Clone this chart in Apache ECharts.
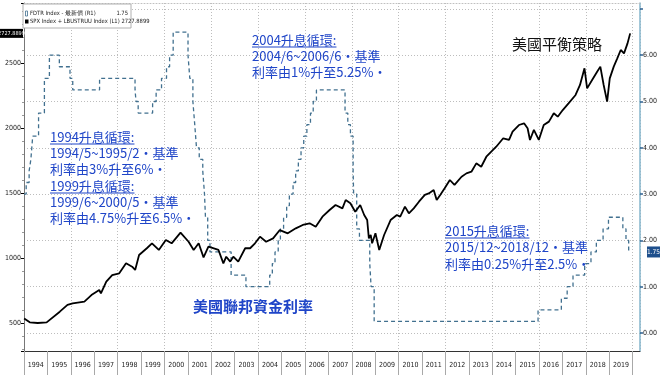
<!DOCTYPE html>
<html><head><meta charset="utf-8">
<script src="https://cdn.jsdelivr.net/npm/echarts@6/dist/echarts.min.js"></script>
<style>html,body{margin:0;padding:0;background:#fff}#c{width:660px;height:375px}</style>
</head><body><div id="c"></div>
<script>
// ---- data ----
const yearLabels = [1994,1995,1996,1997,1998,1999,2000,2001,2002,2003,2004,2005,2006,2007,2008,2009,2010,2011,2012,2013,2014,2015,2016,2017,2018,2019];
const leftTicks = [500,1000,1500,2000,2500];
const rightTicks = [0,1,2,3,4,5,6];

const fdtrDates = ['1994-01-01','1994-02-04','1994-03-22','1994-04-18','1994-05-17','1994-08-16','1994-11-15','1995-02-01','1995-07-06','1995-12-19','1996-01-31','1997-03-25','1998-09-29','1998-10-15','1998-11-17','1999-06-30','1999-08-24','1999-11-16','2000-02-02','2000-03-21','2000-05-16','2001-01-03','2001-01-31','2001-03-20','2001-04-18','2001-05-15','2001-06-27','2001-08-21','2001-09-17','2001-10-02','2001-11-06','2001-12-11','2002-11-06','2003-06-25','2004-06-30','2004-08-10','2004-09-21','2004-11-10','2004-12-14','2005-02-02','2005-03-22','2005-05-03','2005-06-30','2005-08-09','2005-09-20','2005-11-01','2005-12-13','2006-01-31','2006-03-28','2006-05-10','2006-06-29','2007-09-18','2007-10-31','2007-12-11','2008-01-22','2008-01-30','2008-03-18','2008-04-30','2008-10-08','2008-10-29','2008-12-16','2015-12-16','2016-12-14','2017-03-15','2017-06-14','2017-12-13','2018-03-21','2018-06-13','2018-09-26','2018-12-19','2019-07-31','2019-09-18','2019-10-30','2019-11-22'];
const fdtrRates = [3.00,3.25,3.50,3.75,4.25,4.75,5.50,6.00,5.75,5.50,5.25,5.50,5.25,5.00,4.75,5.00,5.25,5.50,5.75,6.00,6.50,6.00,5.50,5.00,4.50,4.00,3.75,3.50,3.00,2.50,2.00,1.75,1.25,1.00,1.25,1.50,1.75,2.00,2.25,2.50,2.75,3.00,3.25,3.50,3.75,4.00,4.25,4.50,4.75,5.00,5.25,4.75,4.50,4.25,3.50,3.00,2.25,2.00,1.50,1.00,0.25,0.50,0.75,1.00,1.25,1.50,1.75,2.00,2.25,2.50,2.25,2.00,1.75,1.75];

const balDates = ['1994-01-03','1994-04-01','1994-08-03','1994-12-20','1995-07-13','1995-11-10','1996-01-30','1996-07-31','1996-11-18','1997-03-20','1997-04-15','1997-07-08','1997-10-08','1998-01-26','1998-05-12','1998-08-15','1998-10-01','1998-12-01','1999-04-01','1999-06-20','1999-10-05','2000-01-22','2000-04-22','2000-09-08','2001-01-12','2001-04-01','2001-06-18','2001-09-02','2001-11-17','2002-04-23','2002-07-08','2002-08-22','2002-10-23','2002-12-10','2003-02-25','2003-06-13','2003-08-29','2003-11-13','2004-01-30','2004-05-05','2004-08-22','2004-12-05','2005-04-08','2005-08-11','2005-11-28','2006-03-15','2006-06-18','2006-10-01','2007-01-20','2007-04-23','2007-08-08','2007-09-28','2007-12-10','2008-02-24','2008-05-12','2008-07-13','2008-08-29','2008-09-24','2008-10-23','2008-11-14','2009-01-05','2009-03-05','2009-05-20','2009-08-29','2009-12-05','2010-01-26','2010-04-10','2010-06-10','2010-08-25','2010-11-14','2011-02-14','2011-04-16','2011-07-02','2011-08-18','2011-10-12','2011-12-20','2012-03-10','2012-05-22','2012-09-09','2012-11-24','2013-02-10','2013-04-27','2013-07-13','2013-10-01','2013-12-17','2014-03-04','2014-06-21','2014-09-20','2014-11-14','2015-02-21','2015-05-12','2015-07-06','2015-08-12','2015-10-12','2015-12-28','2016-03-14','2016-06-03','2016-08-18','2016-10-19','2017-01-05','2017-04-05','2017-07-24','2017-10-01','2017-12-10','2018-01-20','2018-04-08','2018-06-25','2018-08-14','2018-10-05','2018-11-28','2019-01-08','2019-03-11','2019-05-05','2019-06-28','2019-08-18','2019-10-12','2019-11-22'];
const balValues = [535,505,500,505,587,640,651,664,715,754,728,818,869,882,959,933,908,1023,1075,1113,1062,1138,1113,1195,1125,1062,1113,1005,1087,1062,959,1010,972,1010,972,1075,1075,1113,1164,1125,1151,1215,1190,1228,1254,1267,1241,1318,1369,1408,1382,1446,1421,1356,1408,1331,1292,1151,1177,1113,1190,1062,1177,1292,1331,1318,1395,1344,1382,1433,1485,1497,1523,1446,1485,1536,1600,1562,1625,1651,1664,1728,1702,1779,1818,1856,1921,1908,1972,2023,2036,1998,1908,1985,1908,2023,2049,2113,2087,2138,2190,2254,2331,2459,2305,2369,2433,2472,2331,2203,2382,2472,2536,2600,2574,2651,2727.8899];

const fdtrLast = 1.75;
const balLast = 2727.8899;

// ---- helpers ----
function dec(s){const p=s.split('-').map(Number);const t=Date.UTC(p[0],p[1]-1,p[2]),a=Date.UTC(p[0],0,1),b=Date.UTC(p[0]+1,0,1);return p[0]+(t-a)/(b-a);}
const fdtrData = fdtrDates.map((d,i)=>[dec(d),fdtrRates[i]]);
const balData = balDates.map((d,i)=>[dec(d),balValues[i]]);

const X_MIN=1994, X_MAX=2020.31;
const axisFont='"Liberation Sans Narrow","DejaVu Sans Condensed",sans-serif';
const cjk='"Noto Sans CJK TC","Noto Sans CJK SC",sans-serif';
const blue='#1f45c8';

const chart = echarts.init(document.getElementById('c'), null, {renderer:'canvas'});
chart.setOption({
  animation:false,
  grid:{left:24,right:15,top:3,bottom:24,containLabel:false},
  xAxis:[
    {type:'value',min:X_MIN,max:X_MAX,interval:2,position:'bottom',
     axisLine:{show:false},axisTick:{show:false},axisLabel:{show:false},
     splitLine:{show:true,lineStyle:{color:'#bdbdbd',type:[1,2],width:1}}},
    {type:'value',min:X_MIN,max:X_MAX,interval:1,position:'bottom',
     axisLine:{show:true,lineStyle:{color:'#333',width:1}},
     axisTick:{show:true,length:24,lineStyle:{color:'#a8a8a8',width:1}},
     splitLine:{show:false},
     axisLabel:{show:true,fontSize:7,fontFamily:axisFont,color:'#222',margin:11,
       padding:[0,0,0,23.6],showMaxLabel:false,
       formatter:v=>{const r=Math.round(v);return (Math.abs(v-r)<1e-6&&yearLabels.indexOf(r)>=0)?String(r):'';}}},
    {type:'value',min:X_MIN,max:X_MAX,position:'top',
     axisLine:{show:true,lineStyle:{color:'#c0c0c0',type:[1,2]}},axisTick:{show:false},axisLabel:{show:false},splitLine:{show:false}}
  ],
  yAxis:[
    {type:'value',min:284.6,max:2961.5,splitNumber:5,position:'left',
     axisLine:{show:true,lineStyle:{color:'#777',width:1}},
     axisTick:{show:true,length:3,lineStyle:{color:'#000',width:1}},
     minorTick:{show:true,splitNumber:5,length:2,lineStyle:{color:'#999'}},
     axisLabel:{fontSize:7,fontFamily:axisFont,color:'#222',margin:3,showMinLabel:false,showMaxLabel:false,
       formatter:v=>leftTicks.indexOf(Math.round(v))>=0&&Math.abs(v-Math.round(v))<1e-6?String(Math.round(v)):''},
     splitLine:{show:false}},
    {type:'value',min:-0.3888,max:7.127,splitNumber:8,position:'right',
     axisLine:{show:true,lineStyle:{color:'#86b6cc',width:1.5}},
     axisTick:{show:true,length:3,lineStyle:{color:'#2d5f8e',width:1.5}},
     axisLabel:{fontSize:7,fontFamily:axisFont,color:'#222',margin:3,showMinLabel:false,showMaxLabel:false,
       formatter:v=>{const r=Math.round(v);return (Math.abs(v-r)<1e-6&&rightTicks.indexOf(r)>=0)?r.toFixed(2):'';}},
     splitLine:{show:true,lineStyle:{color:'#bdbdbd',type:[1,2],width:1}}}
  ],
  series:[
    {name:'FDTR Index',type:'line',xAxisIndex:0,yAxisIndex:1,step:'end',showSymbol:false,
     lineStyle:{color:'#41708f',width:1.3,type:[4,3]},data:fdtrData,z:2},
    {name:'SPX Index + LBUSTRUU Index',type:'line',xAxisIndex:0,yAxisIndex:0,showSymbol:false,
     lineStyle:{color:'#000',width:1.8},data:balData,z:3}
  ]
});

// ---- annotations ----
const mctx=document.createElement('canvas').getContext('2d');
function tw(t,size,weight){mctx.font=(weight||'normal')+' '+size+'px '+cjk;return mctx.measureText(t).width;}
const els=[];
function txt(x,y,t,opt){opt=opt||{};els.push({type:'text',x:x,y:y,z:50,style:{text:t,fill:opt.color||blue,font:(opt.weight||'normal')+' '+(opt.size||13)+'px '+cjk,verticalAlign:'middle',align:'left'}});
  if(opt.underline){const w=tw(t,opt.size||13,opt.weight);els.push({type:'line',z:50,shape:{x1:x,y1:y+7,x2:x+w,y2:y+7},style:{stroke:opt.color||blue,lineWidth:1}});}}

txt(50,137,'1994升息循環:',{underline:true});
txt(50,153.5,'1994/5~1995/2・基準');
txt(50,169.5,'利率由3%升至6%・');
txt(50,186,'1999升息循環:',{underline:true});
txt(50,202.5,'1999/6~2000/5・基準');
txt(50,218.5,'利率由4.75%升至6.5%・');

txt(252,40,'2004升息循環:',{underline:true});
txt(252,56,'2004/6~2006/6・基準');
txt(252,72,'利率由1%升至5.25%・');

txt(445,231,'2015升息循環:',{underline:true});
txt(445,247.5,'2015/12~2018/12・基準');
txt(445,264,'利率由0.25%升至2.5%・');

txt(512,44,'美國平衡策略',{color:'#111',size:15});
txt(193,306,'美國聯邦資金利率',{size:15,weight:'bold'});

// legend box
const lf='5.8px '+axisFont;
els.push({type:'rect',z:40,shape:{x:23,y:4,width:108,height:24},style:{fill:'#fff',stroke:'#b0b0b0',lineWidth:1}});
els.push({type:'rect',z:41,shape:{x:25.5,y:11,width:2,height:5},style:{fill:'none',stroke:'#41708f',lineWidth:0.8}});
els.push({type:'text',z:41,x:30,y:13.5,style:{text:'FDTR Index - 最新價 (R1)',fill:'#222',font:lf,verticalAlign:'middle'}});
els.push({type:'text',z:41,x:128,y:13.5,style:{text:fdtrLast.toFixed(2),fill:'#222',font:lf,verticalAlign:'middle',align:'right'}});
els.push({type:'rect',z:41,shape:{x:25,y:19.5,width:3.5,height:4},style:{fill:'#000'}});
els.push({type:'text',z:41,x:30,y:21.5,style:{text:'SPX Index + LBUSTRUU Index (L1) '+balLast.toFixed(4),fill:'#222',font:lf,verticalAlign:'middle'}});

// end value tags
const yl=chart.convertToPixel({yAxisIndex:0},balLast);
els.push({type:'rect',z:45,shape:{x:0,y:yl-4.5,width:23,height:9},style:{fill:'#000'}});
els.push({type:'text',z:46,x:11.5,y:yl,style:{text:balLast.toFixed(4),fill:'#fff',font:'5.5px '+axisFont,align:'center',verticalAlign:'middle'}});
const yr=chart.convertToPixel({yAxisIndex:1},fdtrLast);
els.push({type:'rect',z:45,shape:{x:647,y:yr-5.5,width:13,height:11},style:{fill:'#1d4f8c'}});
els.push({type:'text',z:46,x:653.5,y:yr,style:{text:fdtrLast.toFixed(2),fill:'#fff',font:'6.5px '+axisFont,align:'center',verticalAlign:'middle'}});

chart.setOption({graphic:{elements:els}});
</script></body></html>
